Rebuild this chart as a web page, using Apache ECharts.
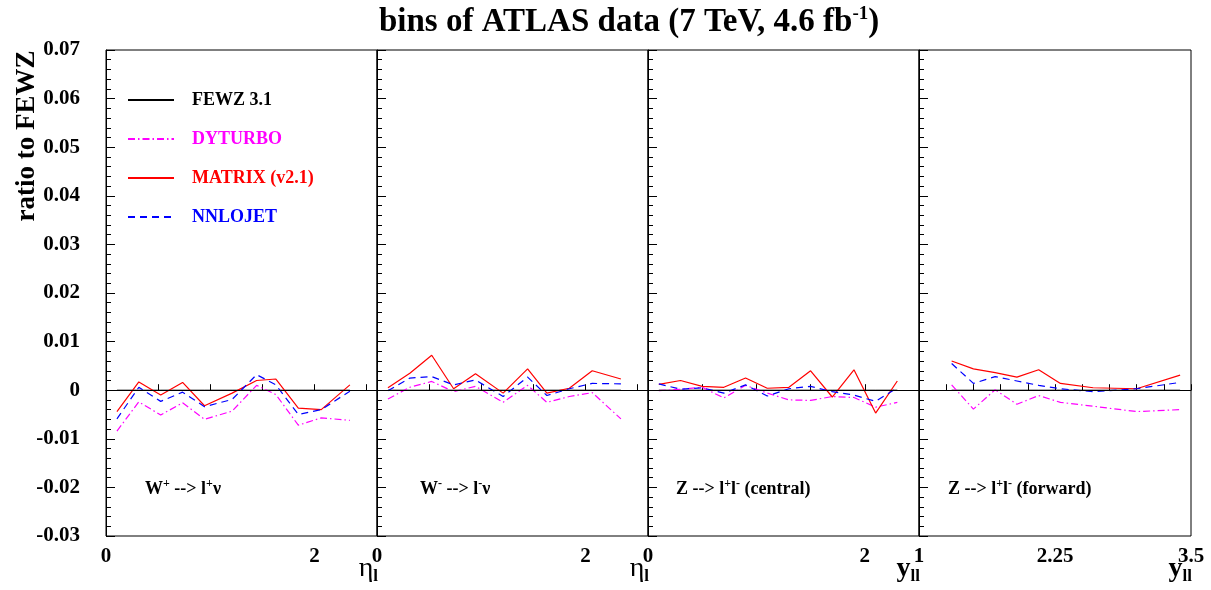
<!DOCTYPE html>
<html>
<head>
<meta charset="utf-8">
<script src="https://cdn.jsdelivr.net/npm/echarts@6/dist/echarts.min.js"></script>
<style>html,body{margin:0;padding:0;background:#fff}#c{width:1211px;height:590px}</style>
</head>
<body>
<div id="c"></div>
<script>
// ---- bin centres (x) ----
const wEta = [0.105, 0.315, 0.525, 0.735, 0.945, 1.21, 1.445, 1.63, 1.845, 2.065, 2.34];
const zCentralY = [0.1, 0.3, 0.5, 0.7, 0.9, 1.1, 1.3, 1.5, 1.7, 1.9, 2.1, 2.3];
const zForwardY = [1.3, 1.5, 1.7, 1.9, 2.1, 2.3, 2.6, 3.0, 3.4];

// ---- W+ ----
const wpMatrix  = [-0.0044, 0.0017, -0.0010, 0.0016, -0.0032, -0.0006, 0.0020, 0.0023, -0.0037, -0.0040, 0.0011];
const wpNnlojet = [-0.0059, 0.0006, -0.0023, -0.0004, -0.0034, -0.0019, 0.0032, 0.0011, -0.0050, -0.0040, -0.0002];
const wpDyturbo = [-0.0084, -0.0024, -0.0051, -0.0026, -0.0060, -0.0043, 0.0010, -0.0009, -0.0072, -0.0057, -0.0062];
// ---- W- ----
const wmMatrix  = [0.0005, 0.0035, 0.0072, 0.0003, 0.0034, -0.0006, 0.0044, -0.0006, 0.0004, 0.0040, 0.0023];
const wmNnlojet = [-0.0001, 0.0025, 0.0028, 0.0011, 0.0021, -0.0013, 0.0027, -0.0011, 0.0003, 0.0014, 0.0013];
const wmDyturbo = [-0.0018, 0.0006, 0.0018, -0.0003, 0.0008, -0.0025, 0.0010, -0.0025, -0.0013, -0.0005, -0.0059];
// ---- Z central ----
const zcMatrix  = [0.0012, 0.0020, 0.0008, 0.0006, 0.0025, 0.0004, 0.0006, 0.0040, -0.0014, 0.0042, -0.0047, 0.0019];
const zcNnlojet = [0.0013, 0.0002, 0.0005, -0.0006, 0.0011, -0.0012, 0.0003, 0.0008, -0.0003, -0.0010, -0.0023, 0.0005];
const zcDyturbo = [-0.0001, 0.0002, 0.0006, -0.0016, 0.0010, -0.0006, -0.0020, -0.0021, -0.0013, -0.0015, -0.0035, -0.0025];
// ---- Z forward ----
const zfMatrix  = [0.0060, 0.0044, 0.0036, 0.0027, 0.0042, 0.0014, 0.0005, 0.0003, 0.0031];
const zfNnlojet = [0.0055, 0.0014, 0.0028, 0.0019, 0.0010, 0.0003, -0.0003, 0.0003, 0.0016];
const zfDyturbo = [0.0011, -0.0039, 0.0001, -0.0029, -0.0011, -0.0025, -0.0033, -0.0044, -0.0040];

// ---- axis ranges / tick labels ----
const xRanges = [[0, 2.6], [0, 2.6], [0, 2.5], [1, 3.5]];
const xIntervals = [0.5, 0.5, 0.5, 0.25];
const xLabelled = [[0, 2], [0, 2], [0, 2], [1, 2.25, 3.5]];
const yMin = -0.03, yMax = 0.07, yStep = 0.01;
const panelNames = [
  '{b|W}{sup|+}{b| --> l}{sup|+}{b|ν}',
  '{b|W}{sup|-}{b| --> l}{sup|-}{b|ν}',
  '{b|Z --> l}{sup|+}{b|l}{sup|-}{b| (central)}',
  '{b|Z --> l}{sup|+}{b|l}{sup|-}{b| (forward)}'
];
const xTitles = ['{a|η}{s|l}', '{a|η}{s|l}', '{y|y}{s|ll}', '{y|y}{s|ll}'];

const panels = [
  {x: wEta, m: wpMatrix, n: wpNnlojet, d: wpDyturbo},
  {x: wEta, m: wmMatrix, n: wmNnlojet, d: wmDyturbo},
  {x: zCentralY, m: zcMatrix, n: zcNnlojet, d: zcDyturbo},
  {x: zForwardY, m: zfMatrix, n: zfNnlojet, d: zfDyturbo}
];

const FONT = '"Liberation Serif", "Times New Roman", serif';
const gridLefts = [106, 377, 648, 919];
const gridWidths = [271, 271, 271, 272];

const grids = [], xAxes = [], yAxes = [], series = [];
panels.forEach((p, i) => {
  grids.push({left: gridLefts[i], top: 50, width: gridWidths[i], height: 486,
    show: true, borderColor: '#000', borderWidth: 1, backgroundColor: 'transparent'});
  xAxes.push({
    type: 'value', gridIndex: i, min: xRanges[i][0], max: xRanges[i][1], interval: xIntervals[i],
    splitLine: {show: false},
    axisLine: {show: true, lineStyle: {color: '#000', width: 1}},
    axisTick: {show: true, inside: true, length: 6, lineStyle: {color: '#000'}},
    axisLabel: {
      show: true, margin: 10, color: '#000', fontFamily: FONT, fontWeight: 'bold', fontSize: 21,
      showMinLabel: true, showMaxLabel: true, hideOverlap: false,
      formatter: v => xLabelled[i].some(t => Math.abs(t - v) < 1e-6) ? String(+v.toFixed(2)) : ''
    }
  });
  yAxes.push({
    type: 'value', gridIndex: i, min: yMin, max: yMax, interval: yStep,
    splitLine: {show: false},
    axisLine: {show: true, lineStyle: {color: '#000', width: 1}},
    axisTick: {show: true, inside: true, length: 9, lineStyle: {color: '#000'}},
    minorTick: {show: true, splitNumber: 5, length: 5, lineStyle: {color: '#000'}},
    axisLabel: {
      show: i === 0, margin: 26, color: '#000', fontFamily: FONT, fontWeight: 'bold', fontSize: 21,
      formatter: v => Math.abs(v) < 1e-9 ? '0' : v.toFixed(2)
    }
  });
  series.push({
    name: 'FEWZ 3.1', type: 'line', xAxisIndex: i, yAxisIndex: i, symbol: 'none',
    data: p.x.map(x => [x, 0]),
    lineStyle: {color: '#000', width: 1, type: 'solid'}, itemStyle: {color: '#000'},
    markLine: {silent: true, symbol: 'none', label: {show: false},
      lineStyle: {color: '#000', width: 1, type: 'solid'}, data: [{yAxis: 0}]},
    z: 1
  });
  series.push({
    name: 'DYTURBO', type: 'line', xAxisIndex: i, yAxisIndex: i, symbol: 'none',
    data: p.x.map((x, k) => [x, p.d[k]]),
    lineStyle: {color: '#ff00ff', width: 1.2, type: [7, 3, 1.5, 3]}, itemStyle: {color: '#ff00ff'}, z: 2
  });
  series.push({
    name: 'MATRIX (v2.1)', type: 'line', xAxisIndex: i, yAxisIndex: i, symbol: 'none',
    data: p.x.map((x, k) => [x, p.m[k]]),
    lineStyle: {color: '#ff0000', width: 1.2, type: 'solid'}, itemStyle: {color: '#ff0000'}, z: 3
  });
  series.push({
    name: 'NNLOJET', type: 'line', xAxisIndex: i, yAxisIndex: i, symbol: 'none',
    data: p.x.map((x, k) => [x, p.n[k]]),
    lineStyle: {color: '#0000ff', width: 1.2, type: [7, 5]}, itemStyle: {color: '#0000ff'}, z: 4
  });
});

const labelX = [145, 420, 676, 948];
const graphics = panelNames.map((t, i) => ({
  type: 'text', left: labelX[i], top: 478,
  style: {
    text: t, fill: '#000',
    rich: {
      b: {fontFamily: FONT, fontWeight: 'bold', fontSize: 18, fill: '#000'},
      sup: {fontFamily: FONT, fontWeight: 'bold', fontSize: 12, fill: '#000', padding: [0, 0, 10, 0]}
    }
  }
}));
// axis titles, right-aligned at each panel's right edge
xTitles.forEach((t, i) => {
  graphics.push({
    type: 'text', right: 1211 - (gridLefts[i] + gridWidths[i]) - 1, top: 555,
    style: {
      text: t, fill: '#000',
      rich: {
        a: {fontFamily: FONT, fontSize: 28, fill: '#000'},
        y: {fontFamily: FONT, fontSize: 28, fontWeight: 'bold', fill: '#000'},
        s: {fontFamily: FONT, fontSize: 17, fontWeight: 'bold', fill: '#000', padding: [16, 0, 0, 0]}
      }
    }
  });
});
graphics.push({
  type: 'text', x: 27, y: 136, rotation: Math.PI / 2,
  style: {text: 'ratio to FEWZ', fontFamily: FONT, fontWeight: 'bold', fontSize: 27, fill: '#000',
    align: 'center', verticalAlign: 'middle'}
});

const option = {
  animation: false,
  backgroundColor: '#fff',
  title: {
    left: 374, top: 0,
    text: '{t|bins of ATLAS data (7 TeV, 4.6 fb}{sup|-1}{t|)}',
    textStyle: {
      rich: {
        t: {fontFamily: FONT, fontWeight: 'bold', fontSize: 33, color: '#000'},
        sup: {fontFamily: FONT, fontWeight: 'bold', fontSize: 19, color: '#000', padding: [0, 0, 15, 0]}
      }
    }
  },
  legend: {
    orient: 'vertical', left: 127, top: 91, padding: 0, itemWidth: 46, itemHeight: 14, itemGap: 21,
    itemStyle: {opacity: 0},
    textStyle: {fontFamily: FONT, fontWeight: 'bold', fontSize: 18, padding: [0, 0, 0, 13]},
    data: [
      {name: 'FEWZ 3.1', textStyle: {color: '#000'}},
      {name: 'DYTURBO', textStyle: {color: '#ff00ff'}},
      {name: 'MATRIX (v2.1)', textStyle: {color: '#ff0000'}},
      {name: 'NNLOJET', textStyle: {color: '#0000ff'}}
    ],
    selectedMode: false
  },
  grid: grids, xAxis: xAxes, yAxis: yAxes, series: series,
  graphic: graphics
};

const chart = echarts.init(document.getElementById('c'), null, {renderer: 'canvas'});
chart.setOption(option);
</script>
</body>
</html>
